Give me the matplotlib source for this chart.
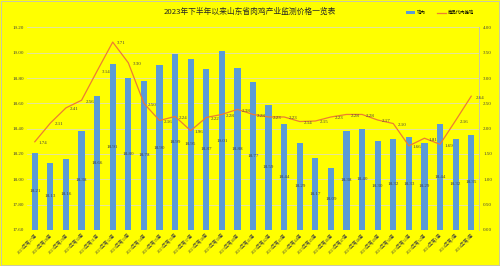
import matplotlib
matplotlib.use("Agg")
import matplotlib.pyplot as plt
from matplotlib.patches import Rectangle, Patch
from matplotlib.lines import Line2D

plt.rcParams['font.family'] = ['Liberation Serif', 'Noto Sans CJK SC', 'DejaVu Sans']

weeks = [f"2023年第{w}周" for w in range(27, 53)] + [f"2024年第{w}周" for w in range(1, 4)]
bar_values = [18.21, 18.13, 18.16, 18.38, 18.66, 18.91, 18.80, 18.78, 18.90, 18.99,
              18.95, 18.87, 19.01, 18.88, 18.77, 18.59, 18.44, 18.29, 18.17, 18.09,
              18.38, 18.40, 18.30, 18.32, 18.33, 18.29, 18.44, 18.32, 18.35]
line_values = [1.74, 2.11, 2.41, 2.56, 3.14, 3.71, 3.30, 2.50, 2.16, 2.24,
               1.96, 2.22, 2.28, 2.38, 2.28, 2.23, 2.23, 2.14, 2.15, 2.23,
               2.28, 2.28, 2.17, 2.10, 1.66, 1.81, 1.69, 2.16, 2.64]
bar_name = "鸡肉"
line_name = "商品代肉雏鸡"
title = "2023年下半年以来山东省肉鸡产业监测价格一览表"

bg = "#FFFF00"
bar_color = "#5B9BD5"
line_color = "#ED7D31"

fig = plt.figure(figsize=(5.0, 2.66), dpi=100, facecolor=bg)
ax = fig.add_axes([0.054, 0.136, 0.904, 0.761])
ax.set_facecolor(bg)
x = list(range(len(weeks)))
ax.bar(x, [v - 17.6 for v in bar_values], bottom=17.6, width=0.4, color=bar_color, zorder=2)
ax.set_ylim(17.6, 19.2)
ax.set_xlim(-0.5, len(weeks) - 0.5)
yt = [17.6 + 0.2 * i for i in range(9)]
ax.set_yticks(yt)
ax.set_yticklabels([f"{v:.2f}" for v in yt], fontsize=3.6, color="#404040")
ax.set_xticks(x)
ax.set_xticklabels(weeks, rotation=45, ha='right', rotation_mode='anchor',
                   fontsize=3.2, color="#404040")
ax.tick_params(length=0, pad=2)
ax.grid(axis='y', color="#D9D9D9", linewidth=0.5, zorder=0)
for s in ax.spines.values():
    s.set_visible(False)
for i, v in enumerate(bar_values):
    ax.text(i, (17.6 + v) / 2, f"{v:.2f}", ha='center', va='center', fontsize=3.6,
            color="#404040", zorder=4)

ax2 = ax.twinx()
ax2.plot(x, line_values, color=line_color, linewidth=0.9, zorder=3)
ax2.set_ylim(0, 4)
rt = [0.5 * i for i in range(9)]
ax2.set_yticks(rt)
ax2.set_yticklabels([f"{v:.2f}" for v in rt], fontsize=3.6, color="#404040")
ax2.tick_params(length=0, pad=3)
for name, s in ax2.spines.items():
    s.set_visible(name == 'right')
ax2.spines['right'].set_color("#BFBFBF")
ax2.spines['right'].set_linewidth(0.6)
for i, v in enumerate(line_values):
    ax2.annotate(f"{v:.2f}", (i, v), xytext=(3, -1), textcoords='offset points',
                 ha='left', va='center', fontsize=3.6, color="#404040")

fig.text(0.5, 0.955, title, ha='center', va='center', fontsize=5.6, color="#262626",
         family=['Noto Sans CJK SC', 'DejaVu Sans'])
handles = [Patch(facecolor=bar_color, edgecolor='none'),
           Line2D([0], [0], color=line_color, linewidth=0.9)]
fig.legend(handles, [bar_name, line_name], loc='center', bbox_to_anchor=(0.88, 0.953),
           ncol=2, frameon=False, prop={'family': ['Noto Sans CJK SC'], 'size': 3.2},
           handlelength=2.0, handleheight=0.6, columnspacing=2.5, handletextpad=0.5)

fig.patches.append(Rectangle((0.002, 0.004), 0.996, 0.992, transform=fig.transFigure,
                             fill=False, edgecolor="#C0C0C0", linewidth=0.6))
fig.savefig("out.png", dpi=100, facecolor=bg)
